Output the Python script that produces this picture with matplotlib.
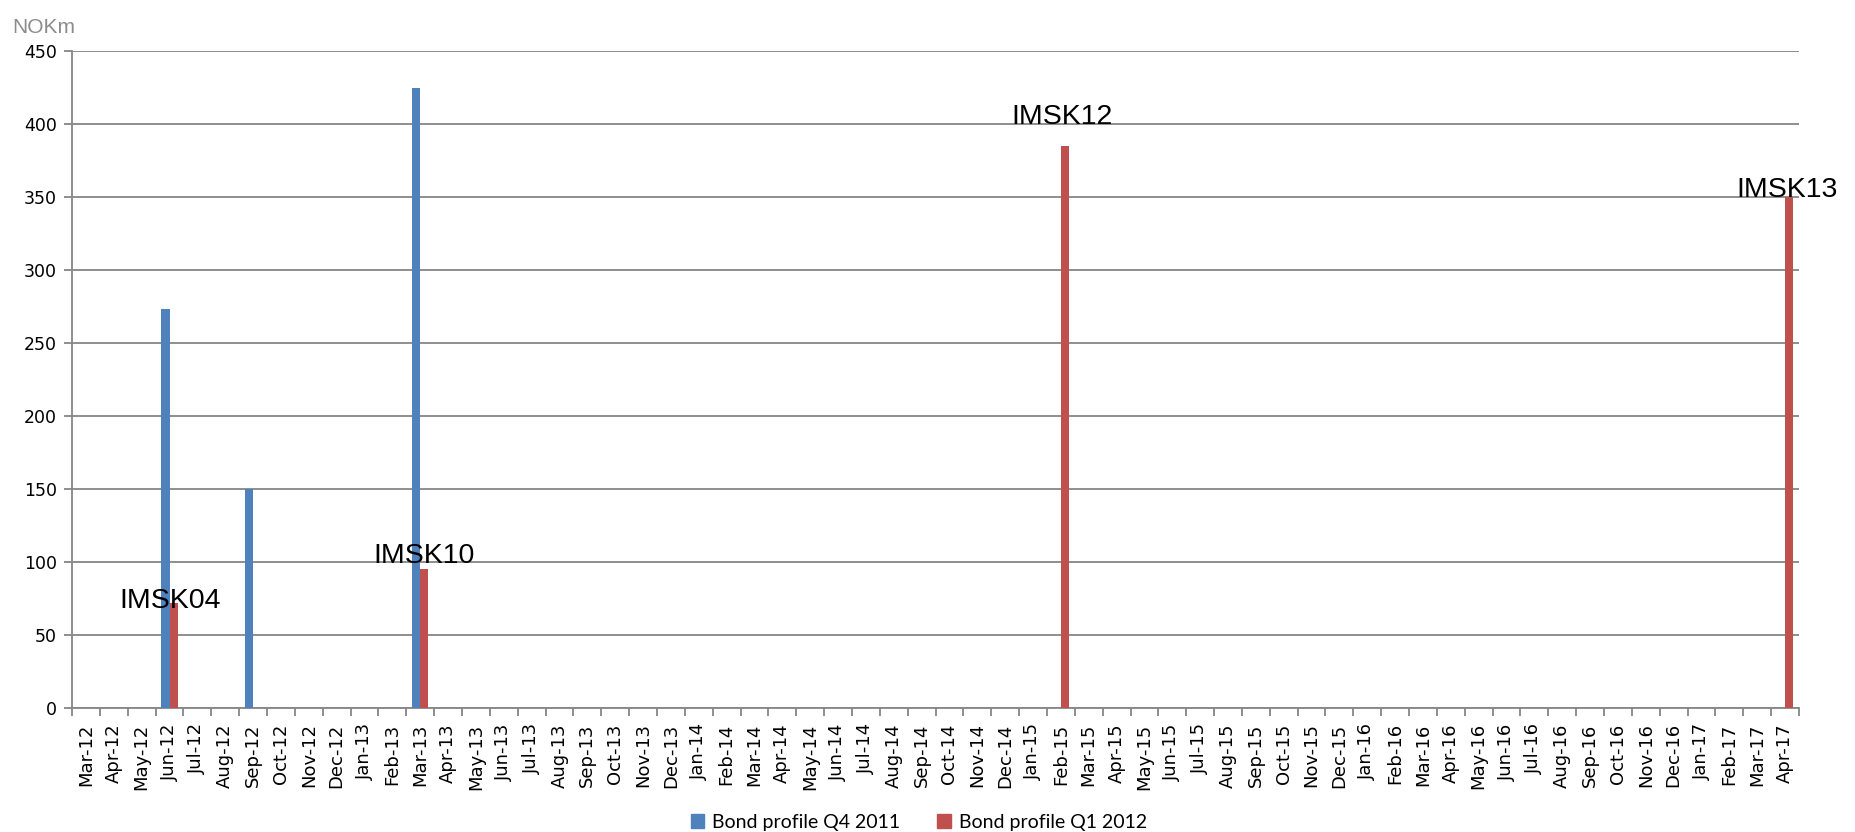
import numpy as np
import pandas as pd
import matplotlib
matplotlib.use("Agg")
import matplotlib.pyplot as plt
from matplotlib.patches import Patch

months = list(pd.date_range("2012-03-01", "2017-04-01", freq="MS").strftime("%b-%y"))

q4_months = ["Jun-12", "Sep-12", "Mar-13"]
q4_values = [273, 150, 425]

q1_months = ["Jun-12", "Mar-13", "Feb-15", "Apr-17"]
q1_values = [72, 95, 385, 350]
q1_labels = ["IMSK04", "IMSK10", "IMSK12", "IMSK13"]

blue = "#4F81BD"
red = "#C0504D"
grey = "#868686"

q4 = np.zeros(len(months))
q1 = np.zeros(len(months))
for m, v in zip(q4_months, q4_values):
    q4[months.index(m)] = v
for m, v in zip(q1_months, q1_values):
    q1[months.index(m)] = v

fig = plt.figure(figsize=(18.56, 8.32), dpi=100)
ax = fig.add_axes([0.0388, 0.149, 0.9305, 0.7897])

x = np.arange(len(months))
w = 0.29
ax.bar(x - w / 2, q4, width=w, color=blue, zorder=3)
ax.bar(x + w / 2, q1, width=w, color=red, zorder=3)

# data labels, nudged by hand like in the original (pixels)
label_dy = [-5, 6, 22, 0]
label_dx = [-3, 0, -3, -2]
for m, v, t, dy, dx in zip(q1_months, q1_values, q1_labels, label_dy, label_dx):
    i = months.index(m)
    ax.annotate(t, (i + w / 2, v), xytext=(dx, dy), textcoords="offset pixels",
                ha="center", va="baseline", fontsize=20.5,
                family="Liberation Sans", color="black", zorder=5)

ax.set_xlim(-0.5, len(months) - 0.5)
ax.set_ylim(0, 450)
ax.set_yticks(np.arange(0, 451, 50))
ax.yaxis.grid(True, color=grey, linewidth=1.3, zorder=0)
ax.set_axisbelow(True)

ax.set_xticks(x)
ax.set_xticklabels(months, rotation=90, fontsize=13)
ax.set_xticks(np.arange(-0.5, len(months)), minor=True)
ax.tick_params(axis="x", which="major", length=0, pad=11)
ax.tick_params(axis="x", which="minor", length=6, width=1.3, color=grey)
ax.tick_params(axis="y", length=6, width=1.3, color=grey, labelsize=12.5, pad=5)

for s in ["top", "right"]:
    ax.spines[s].set_visible(False)
for s in ["left", "bottom"]:
    ax.spines[s].set_color(grey)
    ax.spines[s].set_linewidth(1.3)

fig.text(0.0065, 0.978, "NOKm", fontsize=15, family="Liberation Sans",
         color="#8c8c8c", ha="left", va="top")

handles = [Patch(color=blue, label="Bond profile Q4 2011"),
           Patch(color=red, label="Bond profile Q1 2012")]
fig.legend(handles=handles, loc="center", bbox_to_anchor=(0.495, 0.012),
           ncol=2, frameon=False, prop={"family": "Lato", "size": 14},
           handlelength=0.7, handleheight=0.7, handletextpad=0.4, columnspacing=1.9)

fig.savefig("out.png", dpi=100)
